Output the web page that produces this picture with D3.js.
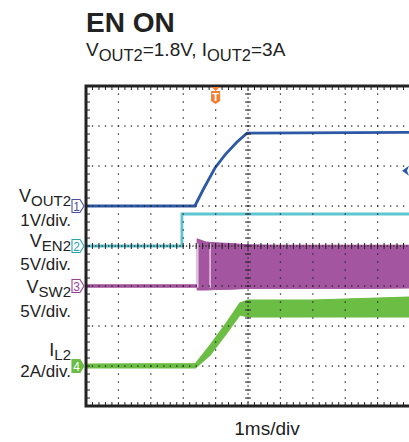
<!DOCTYPE html>
<html>
<head>
<meta charset="utf-8">
<script src="https://cdn.jsdelivr.net/npm/d3@7/dist/d3.min.js"></script>
<style>
  body { margin: 0; background: #fff; }
  svg { display: block; font-family: "Liberation Sans", Arial, sans-serif; }
</style>
</head>
<body>
<div id="chart"></div>
<script>
// ---- data (time in ms, 0 = screen centre; values in channel units) ----
const voutTime = [-5, -1.64, -1.39, -1.02, -0.71, -0.34, -0.03, 5];
const voutVal  = [0, 0, 0.4, 0.95, 1.28, 1.6, 1.82, 1.84];

const enTime = [-5, -2.04, -2.04, 5];
const enVal  = [0, 0, 4.0, 4.0];

const swTime = [-5, -1.57, -1.57, -1.3, -1.0, -0.5, 0, 1, 2, 3, 4, 5];
const swHigh = [0.15, 0.15, 5.9, 5.5, 5.4, 5.3, 5.15, 5.1, 5.1, 5.1, 5.1, 5.1];
const swLow  = [-0.15, -0.15, -0.5, -0.5, -0.45, -0.4, -0.3, -0.3, -0.3, -0.3, -0.3, -0.25];
const swPale = [-1.55, -1.17];

const ilTime = [-5, -1.62, -1.17, -0.65, -0.25, 0, 1, 2, 3, 4, 5];
const ilHigh = [0.1, 0.12, 1.05, 2.2, 3.15, 3.3, 3.3, 3.3, 3.35, 3.4, 3.45];
const ilLow  = [-0.1, -0.1, 0.55, 1.65, 2.55, 2.45, 2.45, 2.45, 2.45, 2.45, 2.45];

const chanNames   = [["V", "OUT2"], ["V", "EN2"], ["V", "SW2"], ["I", "L2"]];
const chanScales  = ["1V/div.", "5V/div.", "5V/div.", "2A/div."];
const chanPerDiv  = [1, 5, 5, 2];
const chanOffsets = [1, 0, -1, -3];
const trigTime = -1.0;
const trigLevel = 0.88;   // on channel 1

const title = "EN ON";
const subtitle = [["V", ""], ["OUT2", "sub"], ["=1.8V, I", ""], ["OUT2", "sub"], ["=3A", ""]];
const timeLabel = "1ms/div";

// ---- layout ----
const width = 409, height = 442;
const pLeft = 86, pRight = 410, pTop = 86, pBottom = 406;
const colors = ["#2c58a6", "#5ec6d0", "#a4559f", "#6bbd44"];
const markerText = ["#4a4fa0", "#2aa5ae", "#9a3f96", "#fff"];
const labelY = [202, 247, 293, 356];
const scaleY = [226, 270, 317, 377];

const svg = d3.select('#chart').append('svg')
  .attr('width', width)
  .attr('height', height);

svg.append('rect').attr('width', width).attr('height', height).attr('fill', '#fff');

const x = d3.scaleLinear().domain([-5, 5]).range([pLeft, pRight]);
const yDiv = d3.scaleLinear().domain([-4, 4]).range([pBottom, pTop]);
const yCh = (ch, v) => yDiv(chanOffsets[ch] + v / chanPerDiv[ch]);

svg.append('clipPath').attr('id', 'plotclip')
  .append('rect').attr('x', pLeft).attr('y', pTop).attr('width', pRight - pLeft).attr('height', pBottom - pTop);

const traces = svg.append('g').attr('clip-path', 'url(#plotclip)');

// IL2 band
const ilPts = ilTime.map((t, i) => [t, ilHigh[i], ilLow[i]]);
traces.append('path')
  .attr('d', d3.area().x(d => x(d[0])).y0(d => yCh(3, d[2])).y1(d => yCh(3, d[1]))(ilPts))
  .attr('fill', colors[3]).attr('stroke', colors[3]).attr('stroke-width', 1.2);

// VSW2 band
const swPts = swTime.map((t, i) => [t, swHigh[i], swLow[i]]);
traces.append('path')
  .attr('d', d3.area().x(d => x(d[0])).y0(d => yCh(2, d[2])).y1(d => yCh(2, d[1]))(swPts))
  .attr('fill', colors[2]).attr('stroke', colors[2]).attr('stroke-width', 1);
traces.selectAll('.pale').data(swPale).enter().append('line')
  .attr('x1', d => x(d)).attr('x2', d => x(d))
  .attr('y1', yCh(2, 5.3)).attr('y2', yCh(2, -0.2))
  .attr('stroke', '#e3c6e1').attr('stroke-width', 1.6);

// VEN2
const line = d3.line().x(d => x(d[0])).y(d => d[1]);
traces.append('path')
  .attr('d', line(enTime.map((t, i) => [t, yCh(1, enVal[i])])))
  .attr('fill', 'none').attr('stroke', colors[1]).attr('stroke-width', 2.8);

// VOUT2
traces.append('path')
  .attr('d', line(voutTime.map((t, i) => [t, yCh(0, voutVal[i])])))
  .attr('fill', 'none').attr('stroke', colors[0]).attr('stroke-width', 2.8);

// ---- graticule (drawn over the traces like the scope screen) ----
const grat = svg.append('g').attr('clip-path', 'url(#plotclip)');
const minorX = d3.range(-5, 5.001, 0.2);
const minorY = d3.range(-4, 4.001, 0.2);

// dotted vertical lines
[-4, -3, -2, -1, 1, 2, 3, 4].forEach(v => {
  grat.selectAll(null).data(minorY).enter().append('rect')
    .attr('x', x(v) - 0.6).attr('y', d => yDiv(d) - 0.6)
    .attr('width', 1.3).attr('height', 1.3).attr('fill', '#222');
});
// dotted horizontal lines
[-3, -2, -1, 1, 2, 3].forEach(v => {
  grat.selectAll(null).data(minorX).enter().append('rect')
    .attr('x', d => x(d) - 0.6).attr('y', yDiv(v) - 0.6)
    .attr('width', 1.3).attr('height', 1.3).attr('fill', '#222');
});
// centre cross with minor ticks
grat.selectAll(null).data(d3.range(-4, 4.001, 0.1)).enter().append('rect')
  .attr('x', x(0) - 0.6).attr('y', d => yDiv(d) - 0.6)
  .attr('width', 1.3).attr('height', 1.3).attr('fill', '#222');
grat.selectAll(null).data(minorY).enter().append('line')
  .attr('x1', x(0) - 3).attr('x2', x(0) + 3)
  .attr('y1', d => yDiv(d)).attr('y2', d => yDiv(d))
  .attr('stroke', '#222').attr('stroke-width', 1);
grat.selectAll(null).data(d3.range(-5, 5.001, 0.1)).enter().append('rect')
  .attr('x', d => x(d) - 0.6).attr('y', yDiv(0) - 0.6)
  .attr('width', 1.3).attr('height', 1.3).attr('fill', '#222');
grat.selectAll(null).data(minorX).enter().append('line')
  .attr('x1', d => x(d)).attr('x2', d => x(d))
  .attr('y1', yDiv(0) - 3).attr('y2', yDiv(0) + 3)
  .attr('stroke', '#222').attr('stroke-width', 1);
// edge ticks
grat.selectAll(null).data(minorX).enter().append('line')
  .attr('x1', d => x(d)).attr('x2', d => x(d))
  .attr('y1', pTop).attr('y2', pTop + 4)
  .attr('stroke', '#222').attr('stroke-width', 1);
grat.selectAll(null).data(minorX).enter().append('line')
  .attr('x1', d => x(d)).attr('x2', d => x(d))
  .attr('y1', pBottom).attr('y2', pBottom - 4)
  .attr('stroke', '#222').attr('stroke-width', 1);
grat.selectAll(null).data(minorY).enter().append('line')
  .attr('x1', pLeft).attr('x2', pLeft + 4)
  .attr('y1', d => yDiv(d)).attr('y2', d => yDiv(d))
  .attr('stroke', '#222').attr('stroke-width', 1);

// frame
svg.append('path')
  .attr('d', `M${pRight + 3},${pTop}H${pLeft}V${pBottom}H${pRight + 3}`)
  .attr('fill', 'none').attr('stroke', '#222').attr('stroke-width', 3);

// ---- channel markers and labels ----
chanNames.forEach((name, ch) => {
  const yc = yCh(ch, 0);
  const g = svg.append('g');
  g.append('path')
    .attr('d', `M${pLeft - 14},${yc - 6.5}H${pLeft - 6}L${pLeft - 2},${yc}L${pLeft - 6},${yc + 6.5}H${pLeft - 14}Z`)
    .attr('fill', ch === 3 ? colors[3] : '#fff')
    .attr('stroke', ch === 3 ? colors[3] : markerText[ch])
    .attr('stroke-width', 1.1);
  g.append('text')
    .attr('x', pLeft - 9.5).attr('y', yc + 4.5)
    .attr('text-anchor', 'middle').attr('font-size', 12)
    .attr('fill', markerText[ch]).text(ch + 1);

  const t = svg.append('text')
    .attr('x', 71).attr('y', labelY[ch])
    .attr('text-anchor', 'end').attr('fill', '#222');
  t.append('tspan').attr('font-size', 18).text(name[0]);
  t.append('tspan').attr('font-size', 15).attr('dy', 4).text(name[1]);

  svg.append('text')
    .attr('x', 71).attr('y', scaleY[ch])
    .attr('text-anchor', 'end').attr('font-size', 17).attr('fill', '#222')
    .text(chanScales[ch]);
});

// trigger position marker
const tx = x(trigTime);
svg.append('path')
  .attr('d', `M${tx - 4},${pTop + 1}H${tx + 4}L${tx},${pTop + 5}Z`)
  .attr('fill', '#f47b30');
svg.append('path')
  .attr('d', `M${tx - 4.5},${pTop + 5}H${tx + 4.5}V${pTop + 15}L${tx},${pTop + 18}L${tx - 4.5},${pTop + 15}Z`)
  .attr('fill', '#f47b30');
svg.append('text')
  .attr('x', tx).attr('y', pTop + 15)
  .attr('text-anchor', 'middle').attr('font-size', 11).attr('font-weight', 'bold')
  .attr('fill', '#fff').text('T');

// trigger level marker
const ty = yCh(0, trigLevel);
svg.append('path')
  .attr('d', `M${width - 7},${ty}L${width},${ty - 5}L${width - 2},${ty}L${width},${ty + 5}Z`)
  .attr('fill', colors[0]);

// ---- titles ----
svg.append('text')
  .attr('x', 86).attr('y', 32)
  .attr('font-size', 28).attr('font-weight', 'bold').attr('fill', '#222')
  .text(title);

const sub = svg.append('text').attr('x', 86).attr('y', 56).attr('fill', '#222');
let lowered = false;
subtitle.forEach(([s, kind]) => {
  const ts = sub.append('tspan').text(s);
  if (kind === 'sub') {
    ts.attr('font-size', 16.5).attr('dy', lowered ? 0 : 5);
    lowered = true;
  } else {
    ts.attr('font-size', 19).attr('dy', lowered ? -5 : 0);
    lowered = false;
  }
});

svg.append('text')
  .attr('x', 267).attr('y', 435)
  .attr('text-anchor', 'middle').attr('font-size', 19).attr('fill', '#222')
  .text(timeLabel);
</script>
</body>
</html>
